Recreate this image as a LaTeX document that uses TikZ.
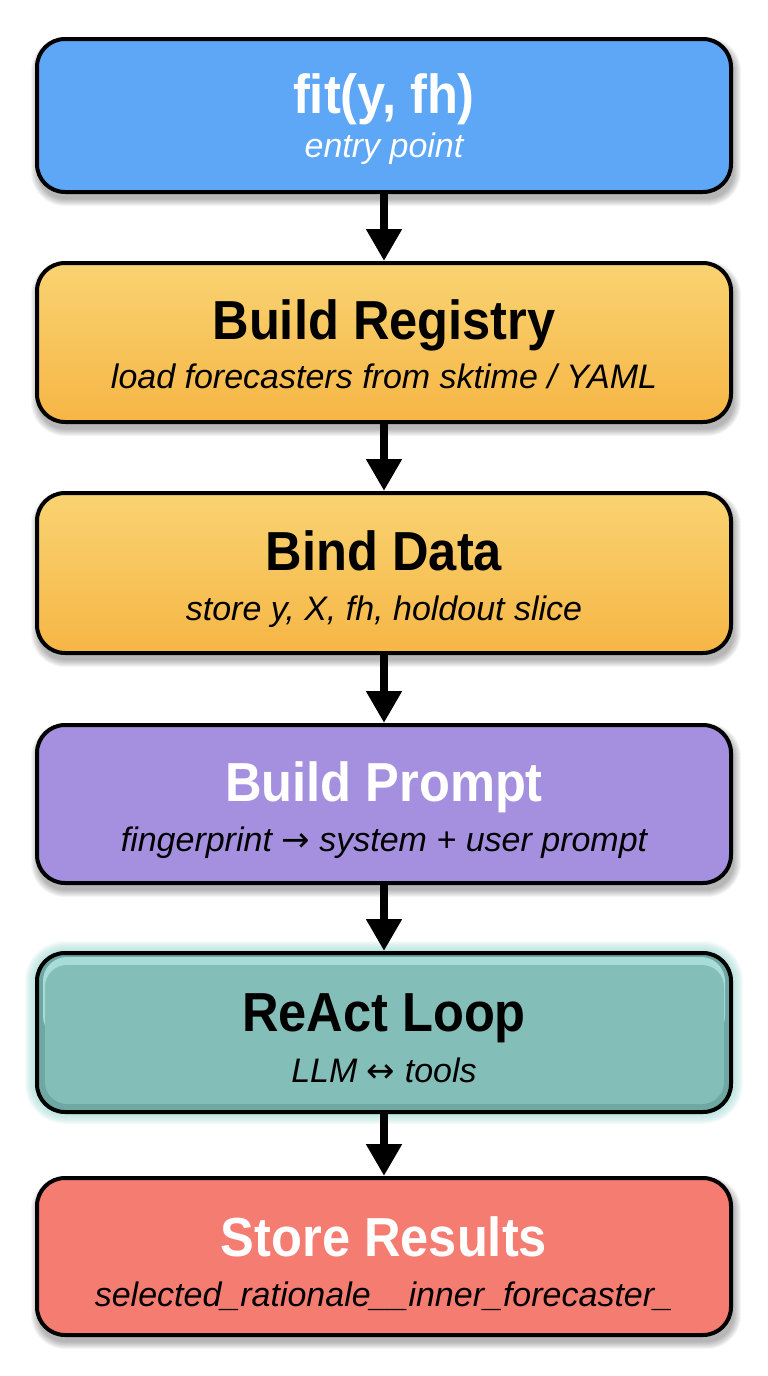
\documentclass[tikz,border=0pt]{standalone}
\usepackage{fontspec}
\setmainfont{Liberation Sans}
\newfontfamily\ttlfont[FakeStretch=0.92]{Liberation Sans}
\newfontfamily\symfont{DejaVu Sans}
\usetikzlibrary{arrows.meta}
\definecolor{cblue}{HTML}{5EA6F6}
\definecolor{cyelT}{HTML}{F9D372}
\definecolor{cyelB}{HTML}{F6B645}
\definecolor{cpurp}{HTML}{A590E0}
\definecolor{cteal}{HTML}{83BEB9}
\definecolor{ctealL}{HTML}{A8DCD8}
\definecolor{ctealD}{HTML}{6FA7A2}
\definecolor{cglow}{HTML}{9FDCD6}
\definecolor{csalm}{HTML}{F57C70}
\newcommand{\softshadow}[2]{%
  \foreach \k in {1,...,8}{%
    \pgfmathsetmacro\rr{26+\k}%
    \fill[black, opacity=0.04, rounded corners=\rr pt] (39-\k, #1+6-\k) rectangle (733+\k, #2+6+\k);
  }}
\newcommand{\arr}[1]{{\symfont\upshape #1}}
\begin{document}
\begin{tikzpicture}[x=1pt,y=-1pt,
  box/.style={draw=black, line width=4pt, rounded corners=28pt, minimum width=694pt, inner sep=0pt},
  ttl/.style={anchor=base, inner sep=0pt, font=\ttlfont\bfseries\fontsize{55}{60}\selectfont},
  sub/.style={anchor=base, inner sep=0pt, font=\itshape\fontsize{34}{40}\selectfont},
  flow/.style={line width=8pt, -{Triangle[width=34pt,length=32pt]}}]
\useasboundingbox[fill=white] (0,0) rectangle (768,1376);

% shadows
\softshadow{39}{192}
\softshadow{263}{422}
\softshadow{493}{653}
\softshadow{725}{883}
\softshadow{1178}{1335}
% glow around ReAct
\foreach \k in {1,...,12}{%
  \pgfmathsetmacro\rr{28+\k}%
  \fill[cglow, opacity=0.09, rounded corners=\rr pt] (37-\k, 953-\k) rectangle (731+\k, 1112+\k);
}

% boxes
\node[box, fill=cblue, minimum height=153pt] (fit) at (384,115.5) {};
\node[box, top color=cyelT, bottom color=cyelB, minimum height=159pt] (reg) at (384,342.5) {};
\node[box, top color=cyelT, bottom color=cyelB, minimum height=160pt] (bind) at (384,573) {};
\node[box, fill=cpurp, minimum height=158pt] (prompt) at (384,804) {};
\node[box, fill=ctealD, minimum height=159pt] (react) at (384,1032.5) {};
\fill[ctealL, rounded corners=24pt] (43,957) rectangle (725,1040);
\fill[cteal, rounded corners=22pt] (45,965) rectangle (724,1104);
\node[box, fill=csalm, minimum height=157pt] (store) at (384,1256.5) {};

% texts
\node[ttl, text=white] (fitT) at (384,113) {fit(y, fh)};
\node[sub, text=white] (fitS) at (384,157) {entry point};
\node[ttl] (regT) at (384,339) {Build Registry};
\node[sub] (regS) at (384,388) {load forecasters from sktime / YAML};
\node[ttl] (bindT) at (384,570) {Bind Data};
\node[sub] (bindS) at (384,620) {store y, X, fh, holdout slice};
\node[ttl, text=white] (promptT) at (384,801) {Build Prompt};
\node[sub] (promptS) at (384,851) {fingerprint \arr{→} system + user prompt};
\node[ttl] (reactT) at (384,1031) {ReAct Loop};
\node[sub] (reactS) at (384,1082) {LLM \arr{↔} tools};
\node[ttl, text=white] (storeT) at (384,1256) {Store Results};
\node[sub] (storeS) at (384,1306) {selected\_rationale\_\_inner\_forecaster\_};

% arrows
\draw[flow] (fit.south) -- (reg.north);
\draw[flow] (reg.south) -- (bind.north);
\draw[flow] (bind.south) -- (prompt.north);
\draw[flow] (prompt.south) -- (react.north);
\draw[flow] (react.south) -- (store.north);
\end{tikzpicture}
\end{document}
